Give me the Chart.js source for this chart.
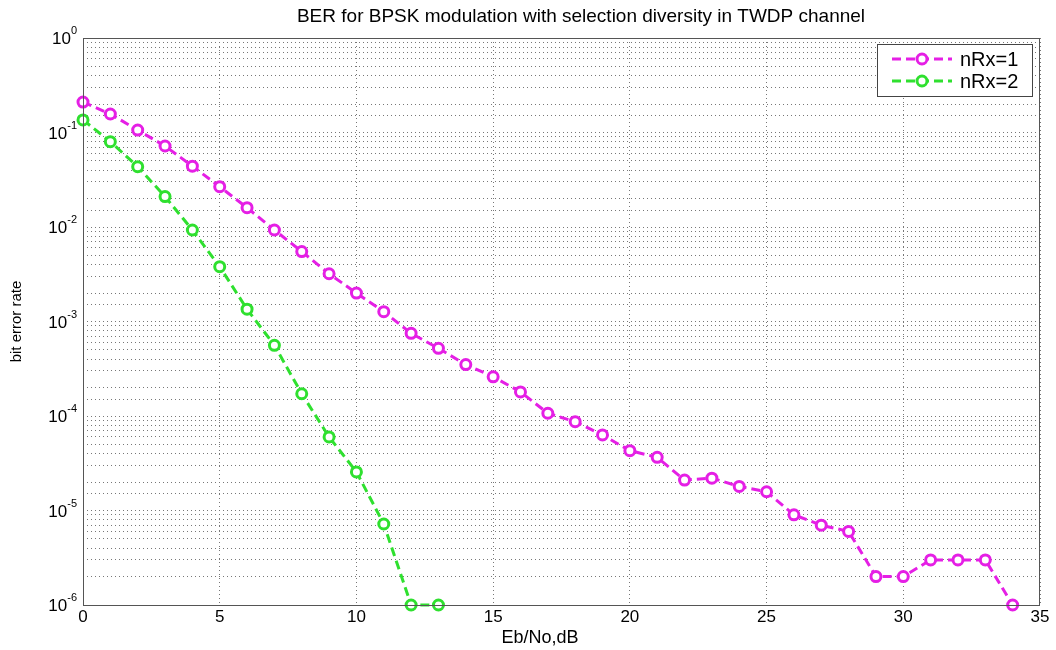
<!DOCTYPE html>
<html>
<head>
<meta charset="utf-8">
<script src="https://cdn.jsdelivr.net/npm/chart.js@4"></script>
<style>
  html, body { margin: 0; padding: 0; background: #fff; }
  #wrap { width: 1056px; height: 650px; }
</style>
</head>
<body>
<div id="wrap"><canvas id="myChart" width="1056" height="650"></canvas></div>
<script>
// Eb/No in dB
var ebno = [0, 1, 2, 3, 4, 5, 6, 7, 8, 9, 10, 11, 12, 13, 14, 15, 16, 17, 18, 19, 20,
            21, 22, 23, 24, 25, 26, 27, 28, 29, 30, 31, 32, 33, 34];
// BER, one receive antenna
var berRx1 = [0.21, 0.157, 0.106, 0.072, 0.044, 0.0267, 0.016, 0.0093, 0.0055, 0.0032,
              0.0020, 0.00127, 0.00075, 0.00052, 0.00035, 0.00026, 0.00018, 0.000107,
              0.000087, 0.000063, 0.000043, 0.0000365, 0.000021, 0.000022, 0.000018,
              0.0000158, 0.000009, 0.000007, 0.000006, 0.000002, 0.000002, 0.000003,
              0.000003, 0.000003, 0.000001];
// BER, two receive antennas (selection diversity)
var berRx2 = [0.136, 0.080, 0.0435, 0.021, 0.0093, 0.0038, 0.00135, 0.00056, 0.000172,
              0.00006, 0.0000256, 0.0000072, 0.000001, 0.000001];
var seriesNames = ['nRx=1', 'nRx=2'];
var xTicks = [0, 5, 10, 15, 20, 25, 30, 35];
var titleText = 'BER for BPSK modulation with selection diversity in TWDP channel';
var xTitle = 'Eb/No,dB';

var MAGENTA = '#e51fe5';
var GREEN = '#2fe02f';
var FONT = 'Liberation Sans, Arial, sans-serif';

function toPoints(xs, ys) {
    var pts = [];
    for (var i = 0; i < ys.length; i++) {
        pts.push({ x: xs[i], y: ys[i] });
    }
    return pts;
}

function isDecade(v) {
    var e = Math.log10(v);
    return Math.abs(e - Math.round(e)) < 1e-9;
}

// box around plot, titles, y tick labels with superscript, legend inside plot
var matlabLook = {
    id: 'matlabLook',
    afterDraw: function (chart) {
        var ctx = chart.ctx;
        var a = chart.chartArea;
        ctx.save();

        // frame
        ctx.strokeStyle = '#555';
        ctx.lineWidth = 1;
        ctx.setLineDash([]);
        ctx.strokeRect(a.left + 0.5, a.top + 0.5, a.right - a.left - 1, a.bottom - a.top);

        // title and x label (MATLAB places them a bit off the plot centre)
        ctx.fillStyle = '#000';
        ctx.textAlign = 'center';
        ctx.textBaseline = 'middle';
        ctx.font = '19px ' + FONT;
        ctx.fillText(titleText, 581, 17);
        ctx.font = '18px ' + FONT;
        ctx.fillText(xTitle, 540, 638);

        // y tick labels 10^n
        var ys = chart.scales.y;
        ys.ticks.forEach(function (t) {
            if (!isDecade(t.value)) return;
            var py = ys.getPixelForValue(t.value);
            var exp = String(Math.round(Math.log10(t.value)));
            ctx.font = '11px ' + FONT;
            ctx.textAlign = 'left';
            ctx.textBaseline = 'alphabetic';
            var ew = ctx.measureText(exp).width;
            var ex = a.left - 6 - ew;
            ctx.fillText(exp, ex, py - 4);
            ctx.font = '17px ' + FONT;
            ctx.textAlign = 'right';
            ctx.fillText('10', ex, py + 6);
        });

        // legend
        var lw = 155, lh = 52;
        var lx = a.right - lw - 8, ly = a.top + 6;
        ctx.fillStyle = '#fff';
        ctx.fillRect(lx, ly, lw, lh);
        ctx.strokeStyle = '#444';
        ctx.lineWidth = 1;
        ctx.strokeRect(lx + 0.5, ly + 0.5, lw, lh);
        chart.data.datasets.forEach(function (ds, i) {
            var cy = ly + 15 + i * 22;
            ctx.strokeStyle = ds.borderColor;
            ctx.lineWidth = 3;
            ctx.setLineDash([9, 5]);
            ctx.beginPath();
            ctx.moveTo(lx + 15, cy);
            ctx.lineTo(lx + 75, cy);
            ctx.stroke();
            ctx.setLineDash([]);
            ctx.beginPath();
            ctx.arc(lx + 45, cy, 5, 0, Math.PI * 2);
            ctx.fillStyle = '#fff';
            ctx.fill();
            ctx.stroke();
            ctx.fillStyle = '#000';
            ctx.font = '20px ' + FONT;
            ctx.textAlign = 'left';
            ctx.textBaseline = 'middle';
            ctx.fillText(ds.label, lx + 83, cy + 1);
        });
        ctx.restore();
    }
};

var ctx = document.getElementById('myChart').getContext('2d');
var myChart = new Chart(ctx, {
    type: 'line',
    data: {
        datasets: [{
            label: seriesNames[0],
            data: toPoints(ebno, berRx1),
            borderColor: MAGENTA,
            backgroundColor: MAGENTA,
            borderWidth: 3,
            borderDash: [9, 5],
            pointRadius: 5,
            pointBorderWidth: 3,
            pointBackgroundColor: '#fff',
            pointBorderColor: MAGENTA,
            clip: false
        }, {
            label: seriesNames[1],
            data: toPoints(ebno, berRx2),
            borderColor: GREEN,
            backgroundColor: GREEN,
            borderWidth: 3,
            borderDash: [9, 5],
            pointRadius: 5,
            pointBorderWidth: 3,
            pointBackgroundColor: '#fff',
            pointBorderColor: GREEN,
            clip: false
        }]
    },
    options: {
        responsive: false,
        animation: false,
        layout: { padding: { left: 8, right: 16, top: 38, bottom: 0 } },
        plugins: {
            legend: { display: false },
            tooltip: { enabled: false },
            title: { display: false }
        },
        scales: {
            x: {
                type: 'linear',
                min: 0,
                max: 35,
                afterBuildTicks: function (scale) {
                    scale.ticks = xTicks.map(function (v) { return { value: v }; });
                },
                afterFit: function (scale) { scale.height = 45; },
                ticks: {
                    color: '#000',
                    font: { family: FONT, size: 17 },
                    padding: 2,
                    maxRotation: 0
                },
                grid: { color: '#777', lineWidth: 1, drawTicks: false },
                border: { display: false, dash: [1, 3] }
            },
            y: {
                type: 'logarithmic',
                min: 1e-6,
                max: 1,
                afterFit: function (scale) { scale.width = 75; },
                ticks: {
                    display: false,
                    autoSkip: false
                },
                grid: { color: '#777', lineWidth: 1, drawTicks: false },
                border: { display: false, dash: [1, 3] },
                title: {
                    display: true,
                    text: 'bit error rate',
                    color: '#000',
                    font: { family: FONT, size: 15 },
                    padding: { top: 0, bottom: 0 }
                }
            }
        }
    },
    plugins: [matlabLook]
});
</script>
</body>
</html>
